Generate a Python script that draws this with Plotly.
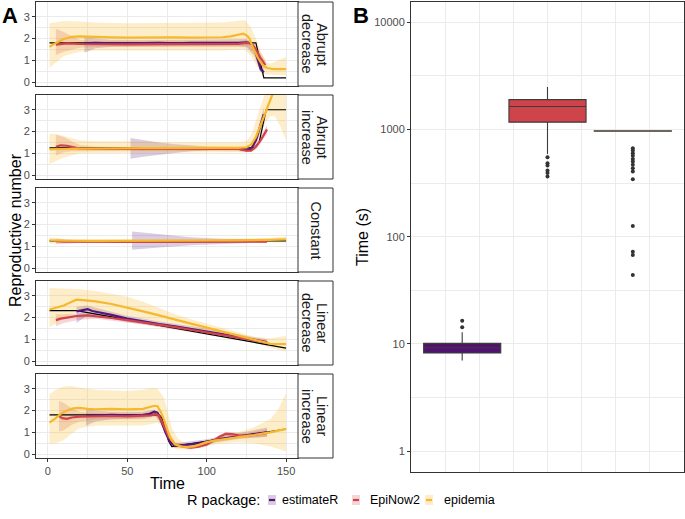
import plotly.graph_objects as go

W, H = 685, 519
FONT = "Liberation Sans, Arial, sans-serif"

# ---------------- Panel A data ----------------
TIME_TICKS = [0, 50, 100, 150]
TIME_MINOR = [25, 75, 125]
R_TICKS = [0, 1, 2, 3]
R_MINOR = [0.5, 1.5, 2.5]
PANEL_LABELS = [["Abrupt", "decrease"], ["Abrupt", "increase"], ["Constant"],
                ["Linear", "decrease"], ["Linear", "increase"]]
PKG_NAMES = ["estimateR", "EpiNow2", "epidemia"]

# Abrupt decrease
ad_true_t = [1, 131, 133.5, 136, 150]
ad_true_r = [1.8, 1.8, 1.0, 0.2, 0.2]
ad_est_t = [23, 30, 40, 50, 60, 70, 80, 90, 100, 110, 120, 125, 128, 130, 132, 134, 136]
ad_est_r = [1.78, 1.8, 1.78, 1.8, 1.79, 1.8, 1.78, 1.8, 1.79, 1.8, 1.8, 1.82, 1.78, 1.55, 1.1, 0.6, 0.45]
ad_est_bt = [23, 30, 40, 60, 90, 120, 125, 130, 134, 136]
ad_est_lo = [1.35, 1.55, 1.62, 1.65, 1.65, 1.65, 1.6, 1.2, 0.45, 0.3]
ad_est_hi = [2.1, 2.0, 1.95, 1.93, 1.94, 1.95, 1.98, 1.75, 0.9, 0.65]
ad_epn_t = [5, 8, 12, 20, 30, 50, 70, 90, 110, 120, 125, 128, 131, 134, 137]
ad_epn_r = [1.72, 1.75, 1.78, 1.75, 1.74, 1.73, 1.74, 1.74, 1.75, 1.76, 1.8, 1.78, 1.5, 1.1, 0.78]
ad_epn_bt = [5, 10, 15, 20, 30, 60, 90, 120, 125, 131, 137]
ad_epn_lo = [1.25, 1.4, 1.5, 1.58, 1.62, 1.62, 1.62, 1.62, 1.65, 1.3, 0.55]
ad_epn_hi = [2.45, 2.3, 2.1, 1.95, 1.88, 1.86, 1.86, 1.88, 1.95, 1.7, 1.0]
ad_epi_t = [1, 5, 10, 15, 20, 25, 30, 40, 50, 60, 70, 80, 90, 100, 110, 115, 120, 123, 125, 127, 129, 132, 135, 138, 142, 150]
ad_epi_r = [1.62, 1.8, 1.98, 2.08, 2.1, 2.08, 2.06, 2.05, 2.04, 2.05, 2.04, 2.05, 2.04, 2.05, 2.06, 2.1, 2.18, 2.22, 2.15, 2.0, 1.6, 1.15, 0.8, 0.65, 0.6, 0.6]
ad_epi_bt = [1, 5, 10, 20, 30, 50, 70, 90, 110, 120, 124, 128, 131, 134, 137, 140, 145, 150]
ad_epi_lo = [0.65, 0.9, 1.2, 1.4, 1.45, 1.45, 1.45, 1.45, 1.45, 1.5, 1.5, 1.2, 0.8, 0.45, 0.35, 0.32, 0.32, 0.32]
ad_epi_hi = [2.7, 2.75, 2.8, 2.78, 2.74, 2.7, 2.72, 2.72, 2.74, 2.82, 2.85, 2.5, 2.0, 1.4, 0.95, 0.85, 1.0, 1.15]

# Abrupt increase
ai_true_t = [1, 130, 133, 137.5, 150]
ai_true_r = [1.25, 1.25, 1.5, 3.0, 3.0]
ai_est_t = [52, 60, 70, 80, 90, 100, 110, 120, 125, 128, 131, 134, 136]
ai_est_r = [1.2, 1.22, 1.22, 1.23, 1.23, 1.24, 1.24, 1.22, 1.15, 1.2, 1.6, 2.3, 2.8]
ai_est_bt = [52, 60, 70, 80, 90, 100, 110, 120, 125, 128, 131, 134, 136]
ai_est_lo = [0.75, 0.85, 0.95, 1.02, 1.1, 1.15, 1.18, 1.16, 1.08, 1.1, 1.4, 2.0, 2.5]
ai_est_hi = [1.7, 1.6, 1.5, 1.42, 1.36, 1.32, 1.3, 1.28, 1.22, 1.3, 1.8, 2.6, 3.1]
ai_epn_t = [5, 8, 12, 16, 20, 30, 50, 70, 90, 110, 120, 125, 128, 131, 134, 138]
ai_epn_r = [1.3, 1.37, 1.35, 1.28, 1.22, 1.2, 1.2, 1.2, 1.21, 1.2, 1.2, 1.12, 1.12, 1.3, 1.6, 2.1]
ai_epn_bt = [5, 10, 15, 20, 30, 60, 90, 120, 125, 131, 138]
ai_epn_lo = [0.9, 1.05, 1.1, 1.1, 1.12, 1.12, 1.12, 1.1, 1.05, 1.18, 1.9]
ai_epn_hi = [1.85, 1.75, 1.55, 1.38, 1.3, 1.28, 1.28, 1.28, 1.2, 1.42, 2.3]
ai_epi_t = [1, 5, 10, 20, 30, 40, 50, 60, 70, 80, 90, 100, 110, 120, 125, 128, 131, 134, 137, 140, 143]
ai_epi_r = [1.18, 1.18, 1.2, 1.22, 1.23, 1.25, 1.25, 1.24, 1.24, 1.25, 1.25, 1.25, 1.25, 1.25, 1.28, 1.4, 1.75, 2.3, 2.9, 3.5, 4.0]
ai_epi_bt = [1, 5, 10, 20, 30, 50, 80, 100, 120, 125, 128, 131, 134, 137, 140, 143, 146, 150]
ai_epi_lo = [0.5, 0.65, 0.8, 1.0, 1.02, 1.02, 1.05, 1.05, 1.05, 1.05, 1.1, 1.4, 1.9, 2.4, 2.7, 2.7, 2.3, 1.6]
ai_epi_hi = [1.9, 1.9, 1.8, 1.6, 1.55, 1.55, 1.5, 1.5, 1.5, 1.55, 1.85, 2.5, 3.2, 3.9, 4.5, 4.5, 4.5, 4.5]

# Constant
co_true_t = [1, 150]
co_true_r = [1.25, 1.25]
co_est_t = [53, 70, 90, 110, 138]
co_est_r = [1.22, 1.22, 1.23, 1.24, 1.25]
co_est_bt = [53, 70, 90, 110, 138]
co_est_lo = [0.85, 0.95, 1.05, 1.12, 1.18]
co_est_hi = [1.68, 1.55, 1.42, 1.35, 1.3]
co_epn_t = [5, 10, 50, 80, 110, 138]
co_epn_r = [1.24, 1.22, 1.21, 1.21, 1.22, 1.22]
co_epn_bt = [5, 20, 138]
co_epn_lo = [1.1, 1.15, 1.17]
co_epn_hi = [1.35, 1.28, 1.27]
co_epi_t = [1, 10, 30, 60, 90, 120, 140, 150]
co_epi_r = [1.28, 1.26, 1.25, 1.25, 1.25, 1.27, 1.3, 1.32]
co_epi_bt = [1, 10, 30, 90, 140, 150]
co_epi_lo = [1.12, 1.17, 1.18, 1.18, 1.2, 1.18]
co_epi_hi = [1.42, 1.34, 1.32, 1.32, 1.38, 1.45]

# Linear decrease
ld_true_t = [1, 18, 150]
ld_true_r = [2.32, 2.32, 0.6]
ld_est_t = [18, 22, 25, 28, 32, 40, 50, 60, 70, 80, 90, 100, 110, 120, 130, 138]
ld_est_r = [2.28, 2.32, 2.38, 2.3, 2.25, 2.12, 1.95, 1.82, 1.7, 1.6, 1.48, 1.38, 1.25, 1.12, 0.98, 0.86]
ld_est_bt = [18, 25, 30, 50, 70, 100, 130, 138]
ld_est_lo = [1.75, 2.1, 2.1, 1.8, 1.58, 1.27, 0.85, 0.72]
ld_est_hi = [2.5, 2.55, 2.45, 2.08, 1.82, 1.5, 1.1, 1.0]
ld_epn_t = [5, 8, 12, 18, 25, 30, 40, 50, 60, 70, 80, 90, 100, 110, 120, 130, 138]
ld_epn_r = [1.88, 1.95, 2.0, 2.07, 2.1, 2.07, 1.98, 1.88, 1.78, 1.67, 1.56, 1.44, 1.32, 1.2, 1.08, 0.96, 0.86]
ld_epn_bt = [5, 10, 20, 30, 60, 100, 138]
ld_epn_lo = [1.6, 1.75, 1.9, 1.95, 1.68, 1.22, 0.76]
ld_epn_hi = [2.15, 2.15, 2.2, 2.18, 1.88, 1.42, 0.96]
ld_epi_t = [1, 5, 10, 15, 18, 22, 25, 30, 40, 50, 60, 70, 80, 90, 100, 110, 120, 130, 137, 140, 150]
ld_epi_r = [2.37, 2.45, 2.55, 2.72, 2.82, 2.8, 2.78, 2.74, 2.62, 2.46, 2.28, 2.1, 1.9, 1.72, 1.54, 1.36, 1.18, 1.0, 0.85, 0.8, 0.78]
ld_epi_bt = [1, 10, 20, 30, 40, 50, 60, 70, 80, 90, 100, 110, 120, 130, 140, 150]
ld_epi_lo = [1.55, 1.95, 2.3, 2.3, 2.2, 2.05, 1.92, 1.78, 1.65, 1.55, 1.38, 1.22, 1.05, 0.87, 0.6, 0.45]
ld_epi_hi = [3.35, 3.33, 3.3, 3.22, 3.1, 2.95, 2.72, 2.45, 2.15, 1.92, 1.72, 1.52, 1.32, 1.12, 1.05, 1.15]

# Linear increase
li_true_t = [1, 70, 72, 76, 78, 150]
li_true_r = [1.8, 1.8, 1.65, 0.6, 0.35, 1.15]
li_est_t = [24, 30, 40, 50, 60, 64, 67, 69, 71, 74, 77, 80, 85, 90, 95, 100, 110, 120, 130, 138]
li_est_r = [1.75, 1.78, 1.8, 1.78, 1.8, 1.85, 1.95, 1.9, 1.6, 1.0, 0.55, 0.38, 0.4, 0.45, 0.5, 0.58, 0.72, 0.82, 0.92, 1.0]
li_est_bt = [24, 30, 40, 60, 67, 71, 77, 80, 100, 120, 138]
li_est_lo = [1.3, 1.5, 1.6, 1.65, 1.8, 1.45, 0.4, 0.28, 0.48, 0.7, 0.8]
li_est_hi = [2.1, 2.0, 1.95, 1.95, 2.05, 1.75, 0.7, 0.5, 0.68, 0.95, 1.22]
li_epn_t = [7, 9, 12, 15, 20, 30, 40, 50, 60, 65, 68, 70, 73, 76, 80, 85, 90, 95, 100, 104, 108, 112, 116, 120, 125, 130, 138]
li_epn_r = [1.75, 1.65, 1.62, 1.68, 1.72, 1.74, 1.75, 1.73, 1.75, 1.78, 1.85, 1.75, 1.3, 0.8, 0.45, 0.35, 0.3, 0.35, 0.45, 0.6, 0.8, 0.93, 0.92, 0.86, 0.85, 0.88, 0.98]
li_epn_bt = [7, 10, 15, 20, 30, 60, 68, 73, 80, 90, 100, 112, 125, 138]
li_epn_lo = [1.05, 1.1, 1.35, 1.5, 1.58, 1.6, 1.72, 1.15, 0.35, 0.22, 0.35, 0.83, 0.75, 0.8]
li_epn_hi = [2.45, 2.35, 2.1, 1.95, 1.88, 1.88, 1.98, 1.45, 0.55, 0.4, 0.55, 1.03, 0.95, 1.15]
li_epi_t = [1, 4, 8, 12, 16, 20, 25, 30, 40, 50, 60, 64, 67, 69, 71, 73, 75, 77, 80, 84, 88, 92, 96, 100, 105, 110, 120, 130, 140, 150]
li_epi_r = [1.45, 1.6, 1.85, 2.0, 2.1, 2.12, 2.08, 2.06, 2.08, 2.05, 2.08, 2.15, 2.22, 2.2, 1.95, 1.6, 1.15, 0.75, 0.45, 0.35, 0.33, 0.36, 0.45, 0.55, 0.62, 0.68, 0.78, 0.88, 1.0, 1.16]
li_epi_bt = [1, 5, 10, 15, 20, 30, 40, 50, 60, 66, 69, 71, 73, 75, 78, 82, 88, 95, 100, 110, 120, 130, 140, 145, 150]
li_epi_lo = [0.48, 0.5, 0.65, 0.95, 1.2, 1.3, 1.32, 1.3, 1.32, 1.4, 1.45, 1.35, 1.2, 0.7, 0.3, 0.22, 0.22, 0.3, 0.4, 0.5, 0.55, 0.5, 0.35, 0.25, 0.12]
li_epi_hi = [2.75, 2.95, 3.1, 3.12, 3.05, 2.95, 2.92, 2.9, 2.95, 3.05, 3.0, 2.8, 2.6, 2.1, 1.2, 0.7, 0.45, 0.55, 0.65, 0.82, 1.0, 1.25, 1.6, 2.05, 2.8]

# ---------------- Panel B data (run time, seconds) ----------------
B_POS = [-0.25, 0.0, 0.25]
B_Q1 = [8.2, 1172, 962]
B_MEDIAN = [9.2, 1640, 968]
B_Q3 = [10.1, 1900, 974]
B_LOWER = [7.0, 590, 958]
B_UPPER = [12.8, 2490, 978]
est_outliers = [14.3, 16.4]
epn_outliers = [552, 485, 461, 414, 392, 364]
epi_outliers = [670, 637, 602, 568, 532, 502, 468, 435, 405, 344, 126, 72.4, 67.4, 43.9]
B_TICKS = [1, 10, 100, 1000, 10000]
B_MINOR = [3.1623, 31.623, 316.23, 3162.3]

# ---------------- styling ----------------
PKG_COLORS = ["#57157C", "#D0434B", "#F6B82C"]
PKG_BANDS = ["rgba(87,21,124,0.22)", "rgba(208,67,75,0.22)", "rgba(246,184,44,0.26)"]
BOX_FILLS = ["#52136F", "#CF444A", "#F6B82C"]

PANELS = [
    ((ad_true_t, ad_true_r), [(ad_est_t, ad_est_r, ad_est_bt, ad_est_lo, ad_est_hi),
                              (ad_epn_t, ad_epn_r, ad_epn_bt, ad_epn_lo, ad_epn_hi),
                              (ad_epi_t, ad_epi_r, ad_epi_bt, ad_epi_lo, ad_epi_hi)]),
    ((ai_true_t, ai_true_r), [(ai_est_t, ai_est_r, ai_est_bt, ai_est_lo, ai_est_hi),
                              (ai_epn_t, ai_epn_r, ai_epn_bt, ai_epn_lo, ai_epn_hi),
                              (ai_epi_t, ai_epi_r, ai_epi_bt, ai_epi_lo, ai_epi_hi)]),
    ((co_true_t, co_true_r), [(co_est_t, co_est_r, co_est_bt, co_est_lo, co_est_hi),
                              (co_epn_t, co_epn_r, co_epn_bt, co_epn_lo, co_epn_hi),
                              (co_epi_t, co_epi_r, co_epi_bt, co_epi_lo, co_epi_hi)]),
    ((ld_true_t, ld_true_r), [(ld_est_t, ld_est_r, ld_est_bt, ld_est_lo, ld_est_hi),
                              (ld_epn_t, ld_epn_r, ld_epn_bt, ld_epn_lo, ld_epn_hi),
                              (ld_epi_t, ld_epi_r, ld_epi_bt, ld_epi_lo, ld_epi_hi)]),
    ((li_true_t, li_true_r), [(li_est_t, li_est_r, li_est_bt, li_est_lo, li_est_hi),
                              (li_epn_t, li_epn_r, li_epn_bt, li_epn_lo, li_epn_hi),
                              (li_epi_t, li_epi_r, li_epi_bt, li_epi_lo, li_epi_hi)]),
]

# pixel geometry of the panels
A_X0, A_X1 = 36, 298
STRIP_X1 = 333
PANEL_Y = [(2, 86), (95, 179), (188, 272), (281, 365), (374, 458)]
B_X0, B_X1 = 411, 684
B_Y0, B_Y1 = 2, 472


def fx(p):
    return p / W


def fy(p):
    return 1 - p / H


def suffix(i):
    return "" if i == 1 else str(i)


fig = go.Figure()
layout = dict(
    template="none",
    width=W, height=H, autosize=False,
    margin=dict(l=0, r=0, t=0, b=0, pad=0, autoexpand=False),
    paper_bgcolor="white", plot_bgcolor="white",
    font=dict(family=FONT, color="#000000"),
    showlegend=False,
)
shapes = []
annotations = []

for i, ((tt, tr), series) in enumerate(PANELS, start=1):
    s = suffix(i)
    xa, ya = "x" + s, "y" + s
    # ribbons
    for k, (lt, lr, bt, lo, hi) in enumerate(series):
        fig.add_trace(go.Scatter(
            x=list(bt) + list(bt)[::-1], y=list(hi) + list(lo)[::-1],
            fill="toself", fillcolor=PKG_BANDS[k], line=dict(width=0),
            mode="lines", hoverinfo="skip", xaxis=xa, yaxis=ya))
    # true reproductive number
    fig.add_trace(go.Scatter(x=tt, y=tr, mode="lines",
                             line=dict(color="#000000", width=1.2),
                             xaxis=xa, yaxis=ya, name="True"))
    # estimates
    for k, (lt, lr, bt, lo, hi) in enumerate(series):
        fig.add_trace(go.Scatter(x=lt, y=lr, mode="lines",
                                 line=dict(color=PKG_COLORS[k], width=2.2),
                                 name=PKG_NAMES[k], xaxis=xa, yaxis=ya))
    top, bot = PANEL_Y[i - 1]
    layout["xaxis" + s] = dict(
        domain=[fx(A_X0), fx(A_X1)], anchor=ya, range=[-7.5, 157.5], automargin=False,
        tickmode="array", tickvals=TIME_TICKS, showticklabels=(i == 5),
        ticks="outside" if i == 5 else "", ticklen=3, tickwidth=1, tickcolor="#333333",
        tickfont=dict(size=11, color="#4D4D4D", family=FONT),
        showline=True, linecolor="#333333", linewidth=1, mirror=True,
        showgrid=True, gridcolor="#EBEBEB", gridwidth=1, zeroline=False,
        minor=dict(tickmode="array", tickvals=TIME_MINOR, showgrid=True,
                   gridcolor="#EBEBEB", gridwidth=0.6, ticks=""),
    )
    layout["yaxis" + s] = dict(
        domain=[fy(bot), fy(top)], anchor=xa, range=[-0.175, 3.675], automargin=False,
        tickmode="array", tickvals=R_TICKS, ticks="outside", ticklen=3, tickwidth=1,
        tickcolor="#333333", tickfont=dict(size=11, color="#4D4D4D", family=FONT),
        showline=True, linecolor="#333333", linewidth=1, mirror=True,
        showgrid=True, gridcolor="#EBEBEB", gridwidth=1, zeroline=False,
        minor=dict(tickmode="array", tickvals=R_MINOR, showgrid=True,
                   gridcolor="#EBEBEB", gridwidth=0.6, ticks=""),
    )
    # facet strip
    shapes.append(dict(type="rect", xref="paper", yref="paper",
                       x0=fx(A_X1), x1=fx(STRIP_X1), y0=fy(bot), y1=fy(top),
                       fillcolor="white", line=dict(color="#333333", width=1), layer="above"))
    lab = PANEL_LABELS[i - 1]
    cy = fy((top + bot) / 2)
    cx = (A_X1 + STRIP_X1) / 2
    if len(lab) == 1:
        offs = [0]
    else:
        offs = [6.5, -8.5]
    for txt, off in zip(lab, offs):
        annotations.append(dict(text=txt, x=fx(cx + off), y=cy, xref="paper", yref="paper",
                                showarrow=False, textangle=90, xanchor="center", yanchor="middle",
                                font=dict(size=14.5, color="#1A1A1A", family=FONT)))

# ---------------- Panel B ----------------
outlier_sets = [est_outliers, epn_outliers, epi_outliers]
for k in range(3):
    fig.add_trace(go.Box(
        x=[B_POS[k]], q1=[B_Q1[k]], median=[B_MEDIAN[k]], q3=[B_Q3[k]],
        lowerfence=[B_LOWER[k]], upperfence=[B_UPPER[k]],
        width=0.226, whiskerwidth=0, boxpoints=False,
        fillcolor=BOX_FILLS[k], line=dict(color="#3C3C3C", width=1.1),
        name=PKG_NAMES[k], xaxis="x6", yaxis="y6", hoverinfo="skip"))
for k in range(3):
    fig.add_trace(go.Scatter(
        x=[B_POS[k]] * len(outlier_sets[k]), y=outlier_sets[k], mode="markers",
        marker=dict(color="#333333", size=4), xaxis="x6", yaxis="y6",
        name=PKG_NAMES[k] + " outliers", hoverinfo="skip"))

layout["xaxis6"] = dict(
    domain=[fx(B_X0), fx(B_X1)], anchor="y6", range=[-0.4, 0.4], automargin=False,
    tickmode="array", tickvals=[-0.2, 0, 0.2], showticklabels=False, ticks="",
    showline=True, linecolor="#333333", linewidth=1, mirror=True,
    showgrid=True, gridcolor="#EBEBEB", gridwidth=1, zeroline=False,
    minor=dict(tickmode="array", tickvals=[-0.3, -0.1, 0.1, 0.3], showgrid=True,
               gridcolor="#EBEBEB", gridwidth=0.6, ticks=""),
)
layout["yaxis6"] = dict(
    domain=[fy(B_Y1), fy(B_Y0)], anchor="x6", type="log", range=[-0.196, 4.19], automargin=False,
    tickmode="array", tickvals=B_TICKS, ticktext=[str(v) for v in B_TICKS],
    ticks="outside", ticklen=3, tickwidth=1, tickcolor="#333333",
    tickfont=dict(size=11, color="#4D4D4D", family=FONT),
    showline=True, linecolor="#333333", linewidth=1, mirror=True,
    showgrid=True, gridcolor="#EBEBEB", gridwidth=1, zeroline=False,
    minor=dict(tickmode="array", tickvals=B_MINOR, showgrid=True,
               gridcolor="#EBEBEB", gridwidth=0.6, ticks=""),
)

# ---------------- titles / panel letters ----------------
annotations += [
    dict(text="<b>A</b>", x=fx(10), y=fy(15), font=dict(size=22, family=FONT)),
    dict(text="<b>B</b>", x=fx(361), y=fy(16), font=dict(size=22, family=FONT)),
    dict(text="Reproductive number", x=fx(15), y=fy(230), textangle=-90, font=dict(size=16, family=FONT)),
    dict(text="Time", x=fx((A_X0 + A_X1) / 2), y=fy(483), font=dict(size=16, family=FONT)),
    dict(text="Time (s)", x=fx(363), y=fy(237), textangle=-90, font=dict(size=16, family=FONT)),
]
for a in annotations[-5:]:
    a.update(xref="paper", yref="paper", showarrow=False, xanchor="center", yanchor="middle")

# ---------------- legend (bottom) ----------------
LEG_Y = 500
annotations.append(dict(text="R package:", x=fx(262), y=fy(LEG_Y), xref="paper", yref="paper",
                        showarrow=False, xanchor="right", yanchor="middle",
                        font=dict(size=14.5, family=FONT)))
LEG_SW_X = [268, 352, 425]
LEG_TXT_X = [280, 368, 442]
for k in range(3):
    x0 = LEG_SW_X[k]
    shapes.append(dict(type="rect", xref="paper", yref="paper",
                       x0=fx(x0), x1=fx(x0 + 8), y0=fy(LEG_Y + 5), y1=fy(LEG_Y - 5),
                       fillcolor=PKG_BANDS[k], line=dict(width=0)))
    shapes.append(dict(type="line", xref="paper", yref="paper",
                       x0=fx(x0 + 1), x1=fx(x0 + 7), y0=fy(LEG_Y), y1=fy(LEG_Y),
                       line=dict(color=PKG_COLORS[k], width=2.2)))
    annotations.append(dict(text=PKG_NAMES[k], x=fx(LEG_TXT_X[k]), y=fy(LEG_Y),
                            xref="paper", yref="paper", showarrow=False,
                            xanchor="left", yanchor="middle",
                            font=dict(size=12.5, family=FONT)))

layout["shapes"] = shapes
layout["annotations"] = annotations
fig.update_layout(**layout)
# remove the browser's default 8px page margin so the figure sits at the window origin
fig.write_html("out.html", config={"displayModeBar": False},
               post_script="document.body.style.margin='0px';")
